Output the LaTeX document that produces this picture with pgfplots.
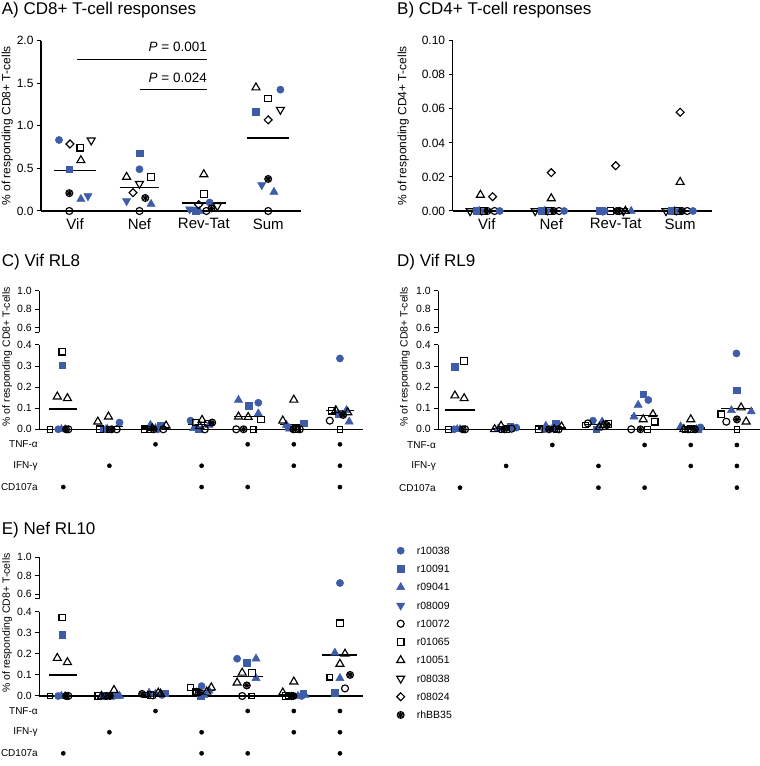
\documentclass[border=0pt]{standalone}
\usepackage{pgfplots}
\pgfplotsset{compat=1.18}
\usepackage{fontspec}
\setmainfont{Liberation Sans}
\definecolor{myblue}{RGB}{62,92,168}
\newcommand\fs[1]{\fontsize{#1}{#1}\selectfont}

% circle with a cross and a saltire inside (rhBB35)
\pgfdeclareplotmark{xcirc}{%
  \pgfpathcircle{\pgfpointorigin}{\pgfplotmarksize}%
  \pgfpathmoveto{\pgfqpoint{-\pgfplotmarksize}{0pt}}\pgfpathlineto{\pgfqpoint{\pgfplotmarksize}{0pt}}%
  \pgfpathmoveto{\pgfqpoint{0pt}{-\pgfplotmarksize}}\pgfpathlineto{\pgfqpoint{0pt}{\pgfplotmarksize}}%
  \pgfpathmoveto{\pgfqpoint{-0.707\pgfplotmarksize}{-0.707\pgfplotmarksize}}\pgfpathlineto{\pgfqpoint{0.707\pgfplotmarksize}{0.707\pgfplotmarksize}}%
  \pgfpathmoveto{\pgfqpoint{-0.707\pgfplotmarksize}{0.707\pgfplotmarksize}}\pgfpathlineto{\pgfqpoint{0.707\pgfplotmarksize}{-0.707\pgfplotmarksize}}%
  \pgfusepathqstroke}

\pgfplotsset{
  /pgf/number format/assume math mode=true,
  r10038/.style={only marks, mark=*, color=myblue, mark size=3.6pt, line width=0.5pt},
  r10091/.style={only marks, mark=square*, color=myblue, mark size=3.3pt, line width=0.5pt},
  r09041/.style={only marks, mark=triangle*, color=myblue, mark size=4.7pt, line width=0.5pt},
  r08009/.style={only marks, mark=triangle*, color=myblue, mark size=4.7pt, line width=0.5pt, every mark/.append style={rotate=180}},
  r10072/.style={only marks, mark=o, color=black, mark size=3.5pt, line width=1.15pt},
  r01065/.style={only marks, mark=square, color=black, mark size=3.3pt, line width=1.15pt},
  r10051/.style={only marks, mark=triangle, color=black, mark size=4.6pt, line width=1.15pt},
  r08038/.style={only marks, mark=triangle, color=black, mark size=4.6pt, line width=1.15pt, every mark/.append style={rotate=180}},
  r08024/.style={only marks, mark=square, color=black, mark size=2.8pt, line width=1.15pt, every mark/.append style={rotate=45}},
  rhBB35/.style={only marks, mark=xcirc, color=black, mark size=3.5pt, line width=1pt},
  meanline/.style={black, line width=1.2pt, no markers},
  cond/.style={only marks, mark=*, color=black, mark size=2.1pt},
  panel/.style={
    scale only axis, clip=false,
    axis x line*=bottom, axis y line*=left,
    axis line style={line width=1.1pt, black},
    tick style={black, line width=1pt},
    tick align=outside, major tick length=4pt,
    xtick style={draw=none},
  },
  upper/.style={
    scale only axis, clip=false,
    axis x line=none, axis y line*=left,
    axis line style={line width=1.1pt, black},
    tick style={black, line width=1pt},
    tick align=outside, major tick length=4pt,
    ymin=0.55, ymax=1, ytick={0.6,0.8,1.0},
    extra y ticks={0.55}, extra y tick labels={},
    xtick=\empty,
    tick label style={font=\fs{10.5}},
    y tick label style={/pgf/number format/fixed, /pgf/number format/fixed zerofill, /pgf/number format/precision=1},
    every mark/.append style={scale=0.9},
  },
  lower/.style={
    panel, ymin=0, ymax=0.4, ytick={0,0.1,0.2,0.3,0.4}, xtick=\empty,
    tick label style={font=\fs{10.5}},
    y tick label style={/pgf/number format/fixed, /pgf/number format/fixed zerofill, /pgf/number format/precision=1},
    ylabel={\% of responding CD8+ T-cells},
    ylabel style={font=\fs{10.5}, anchor=center},
    every mark/.append style={scale=0.9},
  },
}

\begin{document}
\begin{tikzpicture}
\path[use as bounding box] (0,0) rectangle (760pt,766pt);

% ---------------- A) CD8+ ----------------
\begin{axis}[panel, at={(41pt,555pt)}, anchor=south west, width=260pt, height=170.3pt,
  xmin=-0.53, xmax=3.51, ymin=0, ymax=2, ytick={0,0.5,1,1.5,2},
  xtick={0,1,2,3}, xticklabels={Vif,Nef,Rev-Tat,Sum},
  y tick label style={font=\fs{12}, /pgf/number format/fixed, /pgf/number format/fixed zerofill, /pgf/number format/precision=1},
  x tick label style={font=\fs{15}},
  ylabel={\% of responding CD8+ T-cells},
  ylabel style={at={(axis description cs:-0.13,0.5)}, anchor=center, font=\fs{12}}]
\addplot[r10038] coordinates {(-0.25,0.834) (1.0,0.49) (2.09,0.10) (3.19,1.425)};
\addplot[r10091] coordinates {(-0.09,0.49) (1.0,0.68) (1.87,0.0) (2.81,1.165)};
\addplot[r09041] coordinates {(0.09,0.14) (1.18,0.082) (1.93,0.0) (3.09,0.223)};
\addplot[r08009] coordinates {(0.2,0.175) (0.8,0.117) (1.78,0.02) (2.9,0.305)};
\addplot[r10072] coordinates {(-0.09,0) (1.0,0) (2.04,0) (3.0,0)};
\addplot[r01065] coordinates {(0.08,0.744) (1.18,0.40) (2.0,0.20) (3.0,1.32)};
\addplot[r10051] coordinates {(0.09,0.595) (0.8,0.40) (2.0,0.43) (2.81,1.45)};
\addplot[r08038] coordinates {(0.25,0.83) (1.0,0.32) (2.21,0.06) (3.19,1.19)};
\addplot[r08024] coordinates {(-0.08,0.787) (0.9,0.215) (1.92,0.074) (3.0,1.07)};
\addplot[rhBB35] coordinates {(-0.09,0.21) (1.09,0.153) (2.12,0.03) (3.0,0.376)};
\addplot[meanline] coordinates {(-0.33,0.478) (0.33,0.478)};
\addplot[meanline] coordinates {(0.69,0.28) (1.31,0.28)};
\addplot[meanline] coordinates {(1.66,0.094) (2.34,0.094)};
\addplot[meanline] coordinates {(2.67,0.857) (3.33,0.857)};
\addplot[black, line width=1.1pt, no markers] coordinates {(0.03,1.78) (2.05,1.78)};
\addplot[black, line width=1.1pt, no markers] coordinates {(1.01,1.43) (2.05,1.43)};
\node[anchor=base east, inner sep=0pt, font=\fs{13.5}] at (axis cs:2.05,1.87) {\textit{P} = 0.001};
\node[anchor=base east, inner sep=0pt, font=\fs{13.5}] at (axis cs:2.05,1.507) {\textit{P} = 0.024};
\end{axis}

% ---------------- B) CD4+ ----------------
\begin{axis}[panel, at={(452.7pt,555pt)}, anchor=south west, width=259pt, height=170.3pt,
  xmin=-0.53, xmax=3.49, ymin=0, ymax=0.1, ytick={0,0.02,0.04,0.06,0.08,0.1},
  xtick={0,1,2,3}, xticklabels={Vif,Nef,Rev-Tat,Sum},
  y tick label style={font=\fs{12}, /pgf/number format/fixed, /pgf/number format/fixed zerofill, /pgf/number format/precision=2},
  x tick label style={font=\fs{15}},
  ylabel={\% of responding CD4+ T-cells},
  ylabel style={at={(axis description cs:-0.191,0.5)}, anchor=center, font=\fs{12}}]
\addplot[r08038] coordinates {(-0.26,0) (0.75,0) (2.12,0) (2.78,0)};
\addplot[r10091] coordinates {(-0.16,0) (0.85,0) (1.75,0) (2.87,0)};
\addplot[r09041] coordinates {(-0.12,0) (0.9,0) (2.24,0) (2.91,0)};
\addplot[r08009] coordinates {(-0.08,0) (0.94,0) (1.8,0) (2.94,0)};
\addplot[r01065] coordinates {(-0.05,0) (0.97,0) (1.92,0) (2.97,0)};
\addplot[r10051] coordinates {(-0.1,0.0094) (1.0,0.0074) (2.15,0) (3.0,0.017)};
\addplot[rhBB35] coordinates {(0.01,0) (1.04,0) (2.02,0) (3.03,0)};
\addplot[r08024] coordinates {(0.09,0.0084) (1.0,0.0225) (2.0,0.0266) (3.0,0.058)};
\addplot[r10072] coordinates {(0.12,0) (1.12,0) (2.06,0) (3.11,0)};
\addplot[r10038] coordinates {(0.2,0) (1.2,0) (1.83,0) (3.2,0)};
\end{axis}

% ---------------- C) Vif RL8 ----------------
\begin{axis}[upper, at={(39.3pt,433.7pt)}, anchor=south west, width=323.7pt, height=41.3pt,
  xmin=-0.52, xmax=6.5]
\end{axis}
\begin{axis}[lower, at={(39.3pt,336.7pt)}, anchor=south west, width=323.7pt, height=84.3pt,
  xmin=-0.52, xmax=6.5,
  ylabel style={at={(axis description cs:-0.099,0.861)}}]
\addplot[r10038] coordinates {(-0.11,0) (1.22,0.032) (2.05,0) (2.76,0.041) (4.23,0.126) (4.88,0.01) (6,0.336)};
\addplot[r10091] coordinates {(-0.02,0.303) (0.88,0) (2.11,0.02) (2.94,0) (4.02,0.112) (5.22,0.028) (5.96,0.073)};
\addplot[r09041] coordinates {(-0.04,0) (0.93,0) (2,0.005) (3.16,0.02) (3.8,0.139) (4.84,0.02) (6.14,0.09)};
\addplot[r08009] coordinates {(0.04,0) (0.96,0) (1.89,0.02) (2.83,0.005) (4.23,0.075) (4.91,0.003) (6.2,0.036)};
\addplot[r10072] coordinates {(0.11,0) (1.16,0) (2.17,0) (3.07,0) (3.75,0) (5.13,0) (5.78,0.041)};
\addplot[r01065] coordinates {(-0.02,0.368) (0.8,0) (1.76,0) (2.87,0.032) (4.29,0.047) (5.04,0) (5.82,0.088)};
\addplot[r10051] coordinates {(-0.13,0.155) (0.75,0.036) (2.23,0.017) (3.01,0.044) (3.8,0.06) (4.76,0.041) (5.91,0.09)};
\addplot[r08038] coordinates {(0.09,0.147) (0.98,0.06) (1.93,0.005) (2.96,0.015) (4.01,0.058) (5,0.14) (6.17,0.08)};
\addplot[r08024] coordinates {(-0.29,0) (1.01,0) (1.86,0) (3.12,0.03) (4.12,0) (5.09,0) (6,0)};
\addplot[rhBB35] coordinates {(0.06,0) (1.05,0) (1.96,0) (3.23,0.032) (3.91,0) (4.99,0) (6.07,0.068)};
\addplot[meanline] coordinates {(-0.3,0.096) (0.3,0.096)};
\addplot[meanline] coordinates {(0.7,0.013) (1.3,0.013)};
\addplot[meanline] coordinates {(1.7,0.006) (2.3,0.006)};
\addplot[meanline] coordinates {(2.7,0.022) (3.3,0.022)};
\addplot[meanline] coordinates {(3.7,0.062) (4.3,0.062)};
\addplot[meanline] coordinates {(4.7,0.024) (5.3,0.024)};
\addplot[meanline] coordinates {(5.7,0.09) (6.3,0.09)};
\addplot[cond] coordinates {(2,-0.0712) (4,-0.0712) (5,-0.0712) (6,-0.0712)};
\addplot[cond] coordinates {(1,-0.173) (3,-0.173) (5,-0.173) (6,-0.173)};
\addplot[cond] coordinates {(0,-0.274) (3,-0.274) (4,-0.274) (6,-0.274)};
\node[anchor=east, inner sep=0pt, font=\fs{10}] at (axis cs:-0.55,-0.0712) {TNF-α};
\node[anchor=east, inner sep=0pt, font=\fs{10}] at (axis cs:-0.55,-0.173) {IFN-γ};
\node[anchor=east, inner sep=0pt, font=\fs{10}] at (axis cs:-0.55,-0.274) {CD107a};
\end{axis}

% ---------------- D) Vif RL9 ----------------
\begin{axis}[upper, at={(438.3pt,433.7pt)}, anchor=south west, width=321.7pt, height=41.3pt,
  xmin=-0.47, xmax=6.5]
\end{axis}
\begin{axis}[lower, at={(438.3pt,336.7pt)}, anchor=south west, width=321.7pt, height=84.3pt,
  xmin=-0.47, xmax=6.5,
  ylabel style={at={(axis description cs:-0.104,0.861)}}]
\addplot[r10038] coordinates {(-0.13,0) (1.22,0.008) (1.82,0) (2.88,0.041) (4.08,0.139) (5.21,0.009) (5.99,0.36)};
\addplot[r10091] coordinates {(-0.11,0.297) (1.09,0.013) (2.07,0.025) (2.95,0) (3.97,0.167) (5.16,0.003) (5.99,0.186)};
\addplot[r09041] coordinates {(-0.06,0) (0.83,0.003) (2,0.003) (3.08,0.036) (3.86,0.115) (5.12,0) (5.88,0.09)};
\addplot[r08009] coordinates {(0,0) (1.05,0.005) (1.86,0.016) (2.99,0.005) (3.77,0.06) (4.78,0.013) (6.31,0.084)};
\addplot[r10072] coordinates {(0.11,0) (1.12,0.003) (2.14,0) (2.77,0.028) (3.71,0) (4.94,0) (5.77,0.036)};
\addplot[r01065] coordinates {(0.09,0.325) (1.01,0) (1.71,0) (3.22,0.025) (4.22,0.036) (5.01,0) (5.66,0.071)};
\addplot[r10051] coordinates {(0.09,0.147) (0.75,0) (2.2,0.013) (3.02,0.01) (3.97,0.047) (4.85,0) (6.2,0.036)};
\addplot[r08038] coordinates {(-0.11,0.16) (0.89,0.016) (2.04,0) (3.11,0.02) (4.18,0.071) (5,0.047) (6.09,0.103)};
\addplot[r08024] coordinates {(-0.25,0) (0.91,0) (2.09,0) (2.72,0.02) (4.06,0) (4.89,0) (6,0)};
\addplot[rhBB35] coordinates {(0.06,0) (0.96,0) (1.93,0) (3.18,0.02) (3.91,0) (5.09,0) (6,0.047)};
\addplot[meanline] coordinates {(-0.32,0.092) (0.32,0.092)};
\addplot[meanline] coordinates {(0.7,0.005) (1.3,0.005)};
\addplot[meanline] coordinates {(1.7,0.006) (2.3,0.006)};
\addplot[meanline] coordinates {(2.7,0.022) (3.3,0.022)};
\addplot[meanline] coordinates {(3.7,0.065) (4.3,0.065)};
\addplot[meanline] coordinates {(4.7,0.006) (5.3,0.006)};
\addplot[meanline] coordinates {(5.66,0.10) (6.34,0.10)};
\addplot[cond] coordinates {(2,-0.0745) (4,-0.0745) (5,-0.0745) (6,-0.0745)};
\addplot[cond] coordinates {(1,-0.174) (3,-0.174) (5,-0.174) (6,-0.174)};
\addplot[cond] coordinates {(0,-0.277) (3,-0.277) (4,-0.277) (6,-0.277)};
\node[anchor=east, inner sep=0pt, font=\fs{10}] at (axis cs:-0.52,-0.0745) {TNF-α};
\node[anchor=east, inner sep=0pt, font=\fs{10}] at (axis cs:-0.52,-0.174) {IFN-γ};
\node[anchor=east, inner sep=0pt, font=\fs{10}] at (axis cs:-0.52,-0.277) {CD107a};
\end{axis}

% ---------------- E) Nef RL10 ----------------
\begin{axis}[upper, at={(39.3pt,167.4pt)}, anchor=south west, width=323.7pt, height=41.3pt,
  xmin=-0.52, xmax=6.5]
\addplot[r10038] coordinates {(6,0.72)};
\end{axis}
\begin{axis}[lower, at={(39.3pt,70pt)}, anchor=south west, width=323.7pt, height=84.3pt,
  xmin=-0.52, xmax=6.5,
  ylabel style={at={(axis description cs:-0.099,0.866)}}]
\addplot[r10038] coordinates {(-0.11,0) (1.09,0) (2.14,0.005) (3,0.047) (3.77,0.177) (5.17,0)};
\addplot[r10091] coordinates {(-0.02,0.291) (0.88,0) (2.2,0.013) (2.98,0) (3.98,0.158) (5.2,0.013) (5.89,0.016)};
\addplot[r09041] coordinates {(-0.04,0) (1.22,0) (2,0.01) (3.16,0.025) (4.18,0.177) (5.09,0) (5.89,0.205)};
\addplot[r08009] coordinates {(0.04,0) (1.16,0) (1.86,0.015) (3.05,0.005) (4.18,0.084) (5.24,0.005) (6,0.084)};
\addplot[r10072] coordinates {(0.11,0) (0.93,0) (1.94,0.003) (2.89,0.02) (3.88,0) (4.95,0) (6.11,0.036)};
\addplot[r01065] coordinates {(-0.02,0.373) (0.76,0) (1.89,0.005) (2.76,0.04) (4.09,0.11) (4.83,0) (6,0.345)};
\addplot[r10051] coordinates {(-0.13,0.18) (0.83,0) (2.06,0.015) (3.11,0.02) (3.88,0.11) (4.76,0.016) (6,0.152)};
\addplot[r08038] coordinates {(0.09,0.16) (1.1,0.028) (2.11,0.01) (3.21,0.04) (3.77,0.063) (5,0.068) (6.11,0.2)};
\addplot[r08024] coordinates {(-0.29,0) (0.98,0) (1.78,0.005) (2.87,0.02) (4.09,0) (4.88,0) (5.78,0.089)};
\addplot[rhBB35] coordinates {(0.06,0) (1.01,0) (1.71,0.01) (2.94,0.017) (3.98,0.05) (4.99,0) (6.22,0.1)};
\addplot[meanline] coordinates {(-0.3,0.10) (0.3,0.10)};
\addplot[meanline] coordinates {(0.7,0.004) (1.3,0.004)};
\addplot[meanline] coordinates {(1.7,0.008) (2.3,0.008)};
\addplot[meanline] coordinates {(2.7,0.025) (3.3,0.025)};
\addplot[meanline] coordinates {(3.67,0.092) (4.33,0.092)};
\addplot[meanline] coordinates {(4.7,0.006) (5.3,0.006)};
\addplot[meanline] coordinates {(5.62,0.195) (6.38,0.195)};
\addplot[cond] coordinates {(2,-0.0712) (4,-0.0712) (5,-0.0712) (6,-0.0712)};
\addplot[cond] coordinates {(1,-0.172) (3,-0.172) (5,-0.172) (6,-0.172)};
\addplot[cond] coordinates {(0,-0.272) (3,-0.272) (4,-0.272) (6,-0.272)};
\node[anchor=east, inner sep=0pt, font=\fs{10}] at (axis cs:-0.55,-0.0712) {TNF-α};
\node[anchor=east, inner sep=0pt, font=\fs{10}] at (axis cs:-0.55,-0.172) {IFN-γ};
\node[anchor=east, inner sep=0pt, font=\fs{10}] at (axis cs:-0.55,-0.272) {CD107a};
\end{axis}

% ---------------- legend ----------------
\begin{axis}[scale only axis, hide axis, clip=false, at={(400.7pt,51pt)}, anchor=south west,
  width=10pt, height=164.3pt, xmin=0, xmax=1, ymin=0, ymax=9]
\addplot[r10038] coordinates {(0,9)};
\addplot[r10091] coordinates {(0,8)};
\addplot[r09041] coordinates {(0,7)};
\addplot[r08009] coordinates {(0,6)};
\addplot[r10072] coordinates {(0,5)};
\addplot[r01065] coordinates {(0,4)};
\addplot[r10051] coordinates {(0,3)};
\addplot[r08038] coordinates {(0,2)};
\addplot[r08024] coordinates {(0,1)};
\addplot[rhBB35] coordinates {(0,0)};
\foreach \n/\k in {r10038/9,r10091/8,r09041/7,r08009/6,r10072/5,r01065/4,r10051/3,r08038/2,r08024/1,rhBB35/0}{
  \edef\temp{\noexpand\node[anchor=west, inner sep=0pt, font=\noexpand\fs{10.5}] at (axis cs:1.6,\k) {\n};}
  \temp
}
\end{axis}

% ---------------- titles ----------------
\node[anchor=base west, inner sep=0pt, font=\fs{17}] at (1.7pt,751pt) {A) CD8+ T-cell responses};
\node[anchor=base west, inner sep=0pt, font=\fs{17}] at (397pt,751pt) {B) CD4+ T-cell responses};
\node[anchor=base west, inner sep=0pt, font=\fs{17}] at (1.7pt,499pt) {C) Vif RL8};
\node[anchor=base west, inner sep=0pt, font=\fs{17}] at (397pt,499pt) {D) Vif RL9};
\node[anchor=base west, inner sep=0pt, font=\fs{17}] at (1.7pt,231.7pt) {E) Nef RL10};
\end{tikzpicture}
\end{document}
